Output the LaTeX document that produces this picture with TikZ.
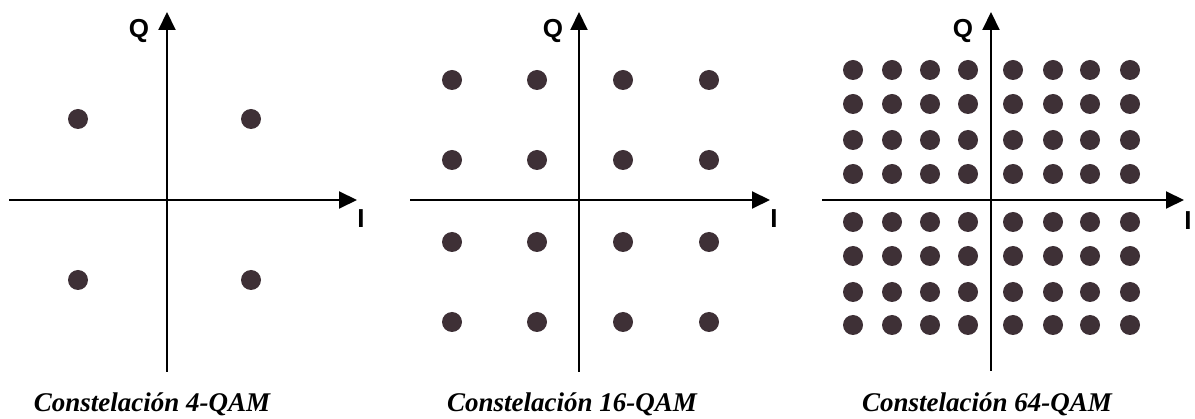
\documentclass[tikz,border=0pt]{standalone}
\usepackage{fontspec}
\setmainfont{Liberation Serif}
\newfontfamily\axfont{Liberation Sans}
\usetikzlibrary{arrows.meta}
\definecolor{dotcol}{RGB}{62,48,54}
\tikzset{
  pt/.style={circle,fill=dotcol,inner sep=0pt,minimum size=20pt},
  axis/.style={line width=2pt,-{Triangle[length=18pt,width=17pt]}},
  axlab/.style={font=\axfont\bfseries\fontsize{26}{26}\selectfont,inner sep=0pt},
  captext/.style={font=\bfseries\itshape\fontsize{27}{27}\selectfont,inner sep=0pt}
}
\begin{document}
\begin{tikzpicture}[x=1pt,y=-1pt]
\useasboundingbox (0,0) rectangle (1195,419);
% ---------- 4-QAM ----------
\coordinate (a1l) at (9,200);
\coordinate (a1r) at (357,200);
\coordinate (a1b) at (167,372);
\coordinate (a1t) at (167,12);
\draw[axis] (a1l) -- (a1r);
\draw[axis] (a1b) -- (a1t);
\node[axlab] (q1) at (139,31) {Q};
\node[axlab] (i1) at (361,219) {I};
\foreach \x/\i in {78/1,251/2}
  \foreach \y/\j in {119/1,280/2}
    \node[pt] (p1-\i-\j) at (\x,\y) {};
\node[captext] (c1) at (152,404) {Constelación 4-QAM};
% ---------- 16-QAM ----------
\coordinate (a2l) at (410,200);
\coordinate (a2r) at (770,200);
\coordinate (a2b) at (579,372);
\coordinate (a2t) at (579,12);
\draw[axis] (a2l) -- (a2r);
\draw[axis] (a2b) -- (a2t);
\node[axlab] (q2) at (553,31) {Q};
\node[axlab] (i2) at (774,219) {I};
\foreach \x/\i in {452/1,537/2,623/3,709/4}
  \foreach \y/\j in {80/1,160/2,242/3,322/4}
    \node[pt] (p2-\i-\j) at (\x,\y) {};
\node[captext] (c2) at (572,404) {Constelación 16-QAM};
% ---------- 64-QAM ----------
\coordinate (a3l) at (822,200);
\coordinate (a3r) at (1184,200);
\coordinate (a3b) at (991,371);
\coordinate (a3t) at (991,12);
\draw[axis] (a3l) -- (a3r);
\draw[axis] (a3b) -- (a3t);
\node[axlab] (q3) at (963,31) {Q};
\node[axlab] (i3) at (1188,221) {I};
\foreach \x/\i in {853/1,892/2,930/3,968/4,1013/5,1053/6,1090/7,1130/8}
  \foreach \y/\j in {70/1,104/2,140/3,174/4,222/5,256/6,292/7,325/8}
    \node[pt] (p3-\i-\j) at (\x,\y) {};
\node[captext] (c3) at (987,404) {Constelación 64-QAM};
\end{tikzpicture}
\end{document}
